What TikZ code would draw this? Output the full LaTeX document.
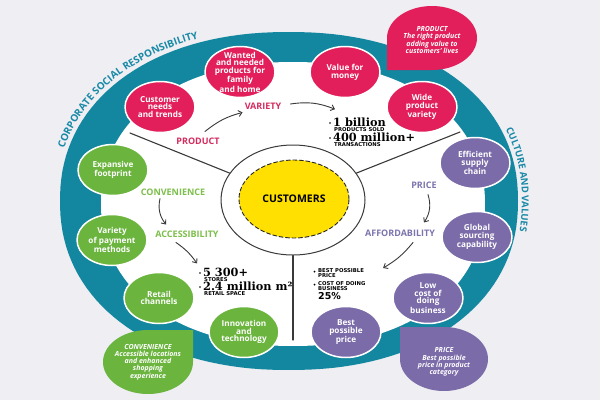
\documentclass[tikz,border=0pt]{standalone}
\usepackage{fontspec}
\setmainfont{Open Sans}
\newfontfamily\slabfont{DejaVu Serif}
\newfontfamily\widesans{DejaVu Sans}
\usetikzlibrary{arrows.meta,shapes.geometric,decorations.text}
\definecolor{bggray}{HTML}{EEEEF3}
\definecolor{ringteal}{HTML}{13879F}
\definecolor{ringtxt}{HTML}{1889A6}
\definecolor{prodred}{HTML}{E21F5B}
\definecolor{convgreen}{HTML}{6BB53F}
\definecolor{pricepurple}{HTML}{7B6BA9}
\definecolor{prodtxt}{HTML}{D52B5F}
\definecolor{convtxt}{HTML}{7CBF4A}
\definecolor{pricetxt}{HTML}{7B74AE}
\definecolor{custyellow}{HTML}{FFE000}
\definecolor{linegray}{HTML}{3A3A3A}
\tikzset{
    bub/.style={
        ellipse, minimum width=70pt, minimum height=51pt, inner sep=-6pt,
        draw=white, line width=1.5pt, text=white, align=center,
        font=\bfseries\fontsize{8.2}{7.7}\selectfont
    },
    lbl/.style={inner sep=0pt, font=\bfseries\fontsize{9}{9}\selectfont},
    tipbox/.style={
        text=white, align=center, inner sep=0pt,
        font=\bfseries\itshape\fontsize{7}{7.2}\selectfont
    },
    bignum/.style={anchor=base west, inner sep=0pt,
        font=\slabfont\bfseries\fontsize{11.3}{12}\selectfont},
    capt/.style={anchor=base west, inner sep=0pt,
        font=\widesans\bfseries\fontsize{5.3}{5.6}\selectfont},
    arr/.style={-{Straight Barb[length=3.5pt,width=6pt]}, line width=0.9pt, draw=linegray},
    divider/.style={line width=1.1pt, draw=linegray}
}
\begin{document}
\begin{tikzpicture}[x=1pt, y=-1pt, line cap=round, line join=round,
    declare function={sg(\c)=((\c<0)?-1:1)*pow(abs(\c)+0.00001,0.92);}]

\fill[bggray] (0,0) rectangle (600,400);
\useasboundingbox (0,0) rectangle (600,400);

% ring
\fill[ringteal] plot[domain=0:360, samples=144] ({289+229*sg(cos(\x))},{201-169*sg(sin(\x))}) -- cycle;
\fill[white] plot[domain=0:360, samples=144] ({293+192*sg(cos(\x))},{204-142*sg(sin(\x))}) -- cycle;

% hub
\node[ellipse, draw=linegray, line width=1pt, fill=white,
      minimum width=144pt, minimum height=110pt] (hub) at (293,200) {};
\node[ellipse, draw=black!85, line width=0.9pt, dash pattern=on 4pt off 2.5pt,
      fill=custyellow, minimum width=110pt, minimum height=78pt,
      font=\bfseries\fontsize{10.5}{12}\selectfont] (cust) at (294,199) {CUSTOMERS};

\coordinate (edgeA) at (130,133);
\coordinate (edgeB) at (460,132);
\coordinate (edgeC) at (293,340);
\draw[divider] (hub.157) -- (edgeA);
\draw[divider] (hub.23) -- (edgeB);
\draw[divider] (hub.south) -- (edgeC);

% product
\foreach \nm/\bx/\by/\txt in {
    needs/160/107/{Customer\\needs\\and trends},
    wanted/240/72/{Wanted\\and needed\\products for\\family\\and home},
    money/345/72/{Value for\\money},
    wide/422/107/{Wide\\product\\variety}} {
  \node[bub, fill=prodred] (\nm) at (\bx,\by) {\txt};
}

% convenience
\foreach \nm/\bx/\by/\txt in {
    footprint/113/170/{Expansive\\footprint},
    payment/112/240/{Variety\\of payment\\methods},
    channels/159/298/{Retail\\channels},
    innov/244/332/{Innovation\\and\\technology}} {
  \node[bub, fill=convgreen] (\nm) at (\bx,\by) {\txt};
}

% price
\foreach \nm/\bx/\by/\txt in {
    supply/475/163/{Efficient\\supply\\chain},
    sourcing/477/237/{Global\\sourcing\\capability},
    lowcost/428/298/{Low\\cost of\\doing\\business},
    bestprice/346/332/{Best\\possible\\price}} {
  \node[bub, fill=pricepurple] (\nm) at (\bx,\by) {\txt};
}

% tips
\fill[prodred] (387,38) -- (387,70) -- plot[domain=-90:180, samples=60] ({432+45*cos(\x)},{38-32*sin(\x)}) -- cycle;
\node[tipbox] (prodtip) at (432,40) {PRODUCT\\The right product\\adding value to\\customers’ lives};

\fill[convgreen] (148,330) -- (193,330) -- plot[domain=0:-270, samples=60] ({148+45*cos(\x)},{362-32*sin(\x)}) -- cycle;
\node[tipbox] (convtip) at (148,362) {CONVENIENCE\\Accessible locations\\and enhanced\\shopping\\experience};

\fill[pricepurple] (400,359) -- (400,327) -- plot[domain=90:-180, samples=60] ({444+44*cos(\x)},{359-32*sin(\x)}) -- cycle;
\node[tipbox] (pricetip) at (444,362) {PRICE\\Best possible\\price in product\\category};

% labels
\node[lbl, text=prodtxt] (prodlbl) at (198,141) {PRODUCT};
\node[lbl, text=prodtxt] (varlbl) at (263,106) {VARIETY};
\node[lbl, text=convtxt] (convlbl) at (173,192) {CONVENIENCE};
\node[lbl, text=convtxt] (acclbl) at (187,234) {ACCESSIBILITY};
\node[lbl, text=pricetxt] (pricelbl) at (424,185) {PRICE};
\node[lbl, text=pricetxt] (afflbl) at (400,233) {AFFORDABILITY};

% numbers
\node[bignum] (billion) at (333,126) {1 billion};
\node[capt] (sold) at (334,131.5) {PRODUCTS SOLD};
\node[bignum] (trans) at (333,141) {400 million+};
\node[capt] (transcap) at (334,146.5) {TRANSACTIONS};
\node[bignum] (stores) at (203,276) {5 300+};
\node[capt] (storescap) at (204,281) {STORES};
\node[bignum] (space) at (203,290) {2.4 million m²};
\node[capt] (spacecap) at (204,295.5) {RETAIL SPACE};
\node[capt, anchor=north west, align=left] (bestcap) at (318,268) {BEST POSSIBLE\\PRICE};
\node[capt, anchor=north west, align=left] (costcap) at (318,281) {COST OF DOING\\BUSINESS};
\node[anchor=base west, inner sep=0pt, font=\widesans\bfseries\fontsize{9.5}{10}\selectfont] (pct) at (318,299) {25\%};
\foreach \dx/\dy in {330/123, 330/138, 200/273, 200/287} {
  \fill[black] (\dx,\dy) circle (0.8pt);
}
\foreach \dy in {271.5, 284.5} {
  \fill[black] (314.5,\dy) circle (1pt);
}

% arrows
\draw[arr] ([xshift=7pt,yshift=6pt]prodlbl.north) to[bend left=12] ([xshift=-2pt,yshift=-3pt]varlbl.south west);
\draw[arr] ([xshift=9pt,yshift=2pt]varlbl.east) to[bend left=15] ([xshift=2pt,yshift=8pt]billion.north west);
\draw[arr] ([xshift=-13pt,yshift=-3pt]convlbl.south) to[bend right=25] ([xshift=-21pt,yshift=6pt]acclbl.north);
\draw[arr] ([xshift=-11pt,yshift=-5pt]acclbl.south) to[bend left=10] ([xshift=-6pt,yshift=4pt]stores.north west);
\draw[arr] ([xshift=4pt,yshift=-6pt]pricelbl.south) to[bend left=25] ([xshift=24pt,yshift=7pt]afflbl.north);
\draw[arr] ([xshift=13pt,yshift=-6pt]afflbl.south) to[bend left=10] ([xshift=19pt]bestcap.north east);

% ring texts
\path[decorate, decoration={text along path, text align=center,
    text={|\bfseries\fontsize{10}{10}\selectfont\color{ringtxt}|CORPORATE SOCIAL RESPONSIBILITY}}]
  plot[domain=173:104, samples=60] ({289+233*sg(cos(\x))},{201-173*sg(sin(\x))});
\path[decorate, decoration={text along path, text align=center,
    text={|\bfseries\fontsize{9.5}{10}\selectfont\color{ringtxt}|CULTURE AND VALUES}}]
  plot[domain=26:-12, samples=40] ({289+233*sg(cos(\x))},{201-173*sg(sin(\x))});

\end{tikzpicture}
\end{document}
